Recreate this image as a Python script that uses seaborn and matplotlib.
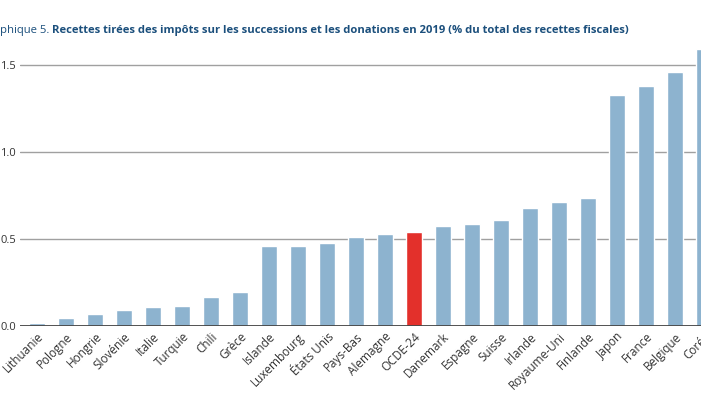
import matplotlib
matplotlib.use("Agg")
import matplotlib.pyplot as plt
import seaborn as sns
import pandas as pd

# country labels and values (% of total tax revenue, 2019)
pays = ["Lithuanie", "Pologne", "Hongrie", "Slovénie", "Italie", "Turquie", "Chili",
        "Grèce", "Islande", "Luxembourg", "États Unis", "Pays-Bas", "Alemagne",
        "OCDE-24", "Danemark", "Espagne", "Suisse", "Irlande", "Royaume-Uni",
        "Finlande", "Japon", "France", "Belgique", "Corée"]
valeurs = [0.017, 0.046, 0.07, 0.092, 0.11, 0.115, 0.167, 0.195, 0.46, 0.46,
           0.477, 0.51, 0.53, 0.54, 0.575, 0.586, 0.61, 0.678, 0.713, 0.736,
           1.328, 1.38, 1.46, 1.59]
y_ticks = [0.0, 0.5, 1.0, 1.5]
titre_num = "Graphique 5. "
titre = "Recettes tirées des impôts sur les successions et les donations en 2019 (% du total des recettes fiscales)"

sns.set_theme(style="white")
plt.rcParams['font.family'] = ['Open Sans', 'DejaVu Sans']

df = pd.DataFrame({"pays": pays, "val": valeurs})
bleu = "#8db3cf"
rouge = "#e3302b"
palette = {p: (rouge if p == "OCDE-24" else bleu) for p in pays}

fig = plt.figure(figsize=(7.01, 3.94), dpi=100)
# axes runs past the right edge on purpose, the source image is cropped
ax = fig.add_axes([20 / 701, 68 / 394, 700 / 701, 278.4 / 394])
for t in y_ticks[1:]:
    ax.axhline(t, color="#a0a0a0", lw=1.0, zorder=0)

sns.barplot(data=df, x="pays", y="val", hue="pays", palette=palette,
            legend=False, width=0.56, saturation=1, ax=ax, zorder=2)

ax.set_xlim(-0.59, 23.55)
ax.set_ylim(0, 1.6)
ax.set_yticks(y_ticks)
ax.set_yticklabels([f"{t:.1f}" for t in y_ticks], fontsize=8, color="#333333")
ax.tick_params(axis="y", length=0, pad=3)
ax.tick_params(axis="x", length=0, pad=3)
plt.setp(ax.get_xticklabels(), rotation=45, ha="right", rotation_mode="anchor",
         fontsize=8.5, color="#333333")
ax.set_xlabel("")
ax.set_ylabel("")
for s in ["top", "right", "left", "bottom"]:
    ax.spines[s].set_visible(False)
ax.axhline(0, color="#444444", lw=1.3, zorder=3)

# title, cut on the left like the reference; font size tuned so it ends near x=628
def largeur(txt, taille, **kw):
    t = fig.text(0, 0, txt, fontsize=taille, **kw)
    w = t.get_window_extent(renderer=fig.canvas.get_renderer()).width
    t.remove()
    return w

taille = 9.0
w_tot = largeur(titre_num, taille) + largeur(titre, taille, weight="bold")
taille *= (628 + largeur("Gra", taille)) / w_tot
x0 = -largeur("Gra", taille) / 701
x1 = x0 + largeur(titre_num, taille) / 701
ty = 1 - 31 / 394
fig.text(x0, ty, titre_num, fontsize=taille, color="#1b4f7c", va="center")
fig.text(x1, ty, titre, fontsize=taille, color="#1b4f7c", weight="bold", va="center")

fig.savefig("out.png", dpi=100)
